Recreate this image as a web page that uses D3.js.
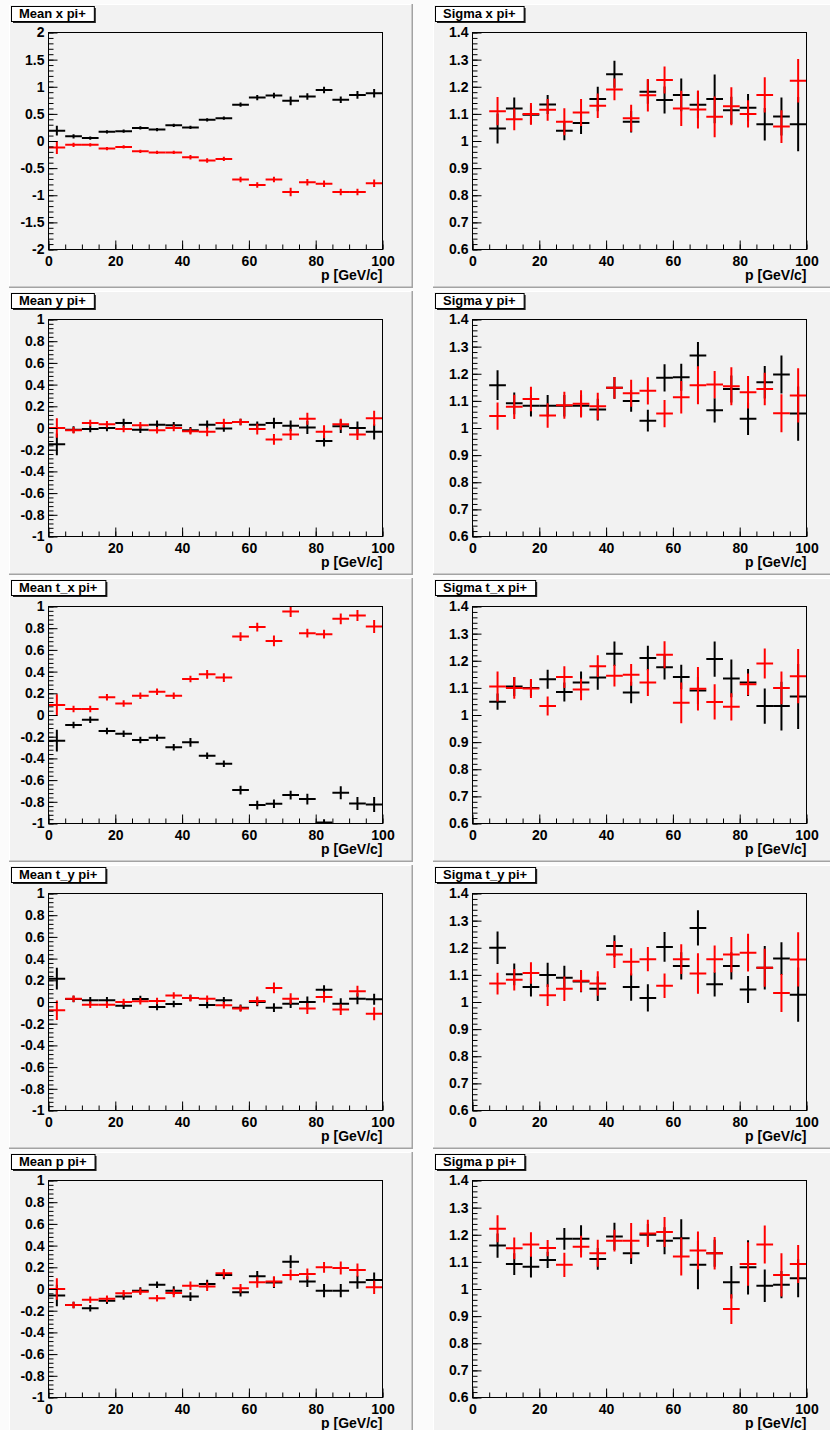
<!DOCTYPE html>
<html>
<head>
<meta charset="utf-8">
<script src="https://cdn.jsdelivr.net/npm/d3@7"></script>
<style>
body{margin:0;background:#fbfbfb;}
svg{display:block;}
text{font-family:"Liberation Sans",Arial,Helvetica,sans-serif;font-weight:bold;}
</style>
</head>
<body>
<div id="canvas"></div>
<script>
// bin centres in p [GeV/c], bins are 5 GeV/c wide
var pBins = [2.5,7.5,12.5,17.5,22.5,27.5,32.5,37.5,42.5,47.5,52.5,57.5,62.5,67.5,72.5,77.5,82.5,87.5,92.5,97.5];
var binHalf = 2.5;

var xTickLabels = ["0","20","40","60","80","100"];
var meanXTickLabels = ["-2","-1.5","-1","-0.5","0","0.5","1","1.5","2"];
var meanTickLabels = ["-1","-0.8","-0.6","-0.4","-0.2","0","0.2","0.4","0.6","0.8","1"];
var sigmaTickLabels = ["0.6","0.7","0.8","0.9","1","1.1","1.2","1.3","1.4"];

var meanXBlack = [0.19,0.086,0.055,0.17,0.18,0.24,0.21,0.29,0.25,0.39,0.42,0.67,0.80,0.84,0.74,0.82,0.94,0.76,0.85,0.88];
var meanXBlackErr = [0.09,0.04,0.03,0.03,0.03,0.03,0.03,0.03,0.03,0.03,0.03,0.04,0.05,0.05,0.08,0.06,0.06,0.06,0.07,0.08];
var meanXRed = [-0.12,-0.07,-0.07,-0.14,-0.11,-0.19,-0.21,-0.21,-0.30,-0.36,-0.33,-0.71,-0.81,-0.71,-0.94,-0.76,-0.79,-0.94,-0.94,-0.78];
var meanXRedErr = [0.12,0.04,0.03,0.03,0.03,0.03,0.03,0.03,0.04,0.04,0.04,0.05,0.05,0.05,0.08,0.06,0.06,0.06,0.06,0.07];

var sigmaXBlack = [null,1.046,1.12,1.097,1.135,1.038,1.066,1.155,1.246,1.071,1.182,1.151,1.17,1.134,1.155,1.113,1.123,1.062,1.09,1.062];
var sigmaXBlackErr = [null,0.055,0.04,0.035,0.035,0.035,0.04,0.045,0.05,0.04,0.045,0.05,0.06,0.05,0.09,0.05,0.05,0.06,0.07,0.1];
var sigmaXRed = [null,1.11,1.08,1.10,1.115,1.071,1.105,1.13,1.19,1.084,1.169,1.225,1.12,1.116,1.089,1.128,1.10,1.17,1.053,1.222];
var sigmaXRedErr = [null,0.052,0.04,0.04,0.04,0.05,0.05,0.045,0.04,0.05,0.06,0.05,0.065,0.07,0.075,0.07,0.05,0.065,0.06,0.08];

var meanYBlack = [-0.15,-0.015,-0.01,0.0,0.045,-0.015,0.03,0.025,-0.02,0.03,-0.005,0.055,0.03,0.045,0.02,0.005,-0.12,0.015,0.0,-0.035];
var meanYBlackErr = [0.1,0.03,0.03,0.03,0.04,0.03,0.04,0.03,0.03,0.04,0.03,0.03,0.03,0.05,0.05,0.06,0.05,0.06,0.06,0.07];
var meanYRed = [0.0,-0.02,0.045,0.035,-0.01,0.025,-0.02,0.0,-0.03,-0.035,0.045,0.055,-0.01,-0.105,-0.06,0.085,-0.035,0.035,-0.06,0.09];
var meanYRedErr = [0.09,0.03,0.03,0.03,0.03,0.03,0.03,0.03,0.03,0.04,0.04,0.03,0.05,0.05,0.05,0.055,0.06,0.05,0.05,0.07];

var sigmaYBlack = [null,1.158,1.091,1.082,1.082,1.082,1.082,1.068,1.148,1.10,1.027,1.185,1.187,1.267,1.065,1.144,1.034,1.169,1.197,1.053];
var sigmaYBlackErr = [null,0.055,0.04,0.04,0.04,0.04,0.04,0.04,0.04,0.04,0.04,0.05,0.05,0.05,0.045,0.05,0.06,0.06,0.07,0.1];
var sigmaYRed = [null,1.044,1.078,1.107,1.046,1.084,1.089,1.08,1.148,1.128,1.137,1.053,1.113,1.158,1.16,1.154,1.132,1.144,1.054,1.12];
var sigmaYRedErr = [null,0.05,0.045,0.045,0.045,0.05,0.05,0.05,0.04,0.05,0.05,0.05,0.06,0.07,0.05,0.07,0.06,0.06,0.07,0.1];

var meanTxBlack = [-0.237,-0.092,-0.043,-0.148,-0.172,-0.23,-0.209,-0.298,-0.252,-0.375,-0.449,-0.692,-0.83,-0.818,-0.738,-0.775,-0.99,-0.717,-0.815,-0.825];
var meanTxBlackErr = [0.1,0.03,0.03,0.03,0.03,0.03,0.03,0.03,0.04,0.03,0.03,0.04,0.04,0.04,0.04,0.05,0.03,0.06,0.06,0.07];
var meanTxRed = [0.092,0.055,0.055,0.163,0.105,0.178,0.215,0.178,0.332,0.375,0.345,0.723,0.81,0.683,0.954,0.754,0.745,0.886,0.917,0.815];
var meanTxRedErr = [0.1,0.03,0.03,0.03,0.03,0.03,0.03,0.03,0.03,0.04,0.04,0.04,0.04,0.05,0.05,0.04,0.04,0.05,0.05,0.06];

var sigmaTxBlack = [null,1.049,1.105,1.10,1.132,1.085,1.12,1.138,1.226,1.083,1.21,1.176,1.14,1.09,1.206,1.135,1.12,1.033,1.033,1.068];
var sigmaTxBlackErr = [null,0.03,0.035,0.03,0.035,0.035,0.04,0.045,0.045,0.04,0.045,0.045,0.045,0.05,0.065,0.07,0.05,0.065,0.09,0.12];
var sigmaTxRed = [null,1.105,1.10,1.098,1.033,1.14,1.094,1.18,1.145,1.148,1.12,1.222,1.045,1.097,1.048,1.03,1.113,1.19,1.10,1.143];
var sigmaTxRedErr = [null,0.055,0.04,0.035,0.035,0.04,0.04,0.04,0.04,0.04,0.05,0.05,0.075,0.08,0.065,0.05,0.04,0.055,0.06,0.1];

var meanTyBlack = [0.215,0.028,0.015,0.015,-0.034,0.028,-0.046,-0.018,0.037,-0.028,0.015,-0.052,0.0,-0.052,-0.015,0.0,0.114,-0.015,0.03,0.025];
var meanTyBlackErr = [0.1,0.03,0.03,0.03,0.03,0.03,0.03,0.03,0.03,0.03,0.03,0.03,0.04,0.04,0.04,0.05,0.04,0.05,0.05,0.05];
var meanTyRed = [-0.077,0.03,-0.025,-0.025,0.0,0.006,0.01,0.06,0.037,0.03,-0.03,-0.06,0.01,0.13,0.03,-0.06,0.046,-0.07,0.1,-0.108];
var meanTyRedErr = [0.09,0.03,0.03,0.03,0.03,0.03,0.03,0.03,0.03,0.03,0.03,0.03,0.04,0.05,0.05,0.05,0.05,0.05,0.05,0.06];

var sigmaTyBlack = [null,1.20,1.102,1.055,1.10,1.089,1.076,1.049,1.206,1.055,1.015,1.203,1.133,1.273,1.065,1.133,1.046,1.126,1.16,1.027];
var sigmaTyBlackErr = [null,0.06,0.04,0.035,0.045,0.045,0.04,0.045,0.04,0.05,0.05,0.055,0.05,0.065,0.045,0.05,0.05,0.08,0.06,0.1];
var sigmaTyRed = [null,1.068,1.082,1.107,1.025,1.049,1.078,1.068,1.175,1.148,1.158,1.06,1.158,1.105,1.158,1.175,1.182,1.126,1.033,1.157];
var sigmaTyRedErr = [null,0.04,0.04,0.04,0.04,0.045,0.04,0.045,0.05,0.05,0.045,0.045,0.055,0.075,0.05,0.065,0.07,0.07,0.07,0.1];

var meanPBlack = [-0.06,-0.148,-0.178,-0.108,-0.07,-0.015,0.04,-0.015,-0.07,0.046,0.13,-0.03,0.117,0.06,0.252,0.068,-0.015,-0.015,0.062,0.083];
var meanPBlackErr = [0.1,0.03,0.03,0.03,0.03,0.03,0.03,0.04,0.04,0.04,0.04,0.04,0.05,0.05,0.06,0.05,0.06,0.06,0.06,0.07];
var meanPRed = [0.0,-0.148,-0.1,-0.09,-0.04,-0.025,-0.086,-0.037,0.03,0.022,0.145,0.006,0.062,0.068,0.13,0.138,0.2,0.194,0.175,0.015];
var meanPRedErr = [0.1,0.03,0.03,0.03,0.03,0.03,0.03,0.04,0.04,0.04,0.04,0.04,0.05,0.05,0.05,0.05,0.05,0.06,0.06,0.06];

var sigmaPBlack = [null,1.16,1.092,1.082,1.107,1.185,1.185,1.111,1.194,1.132,1.2,1.178,1.187,1.089,1.132,1.025,1.08,1.012,1.016,1.04];
var sigmaPBlackErr = [null,0.045,0.04,0.04,0.03,0.04,0.05,0.04,0.05,0.04,0.04,0.05,0.07,0.09,0.05,0.06,0.1,0.06,0.05,0.07];
var sigmaPRed = [null,1.222,1.15,1.164,1.151,1.089,1.156,1.132,1.178,1.178,1.205,1.21,1.12,1.142,1.132,0.926,1.092,1.164,1.052,1.092];
var sigmaPRedErr = [null,0.05,0.04,0.045,0.03,0.045,0.04,0.05,0.04,0.065,0.05,0.055,0.07,0.07,0.06,0.055,0.08,0.07,0.08,0.07];

var panels = [
	{title:"Mean x pi+", ticks:meanXTickLabels, black:meanXBlack, blackErr:meanXBlackErr, red:meanXRed, redErr:meanXRedErr},
	{title:"Sigma x pi+", ticks:sigmaTickLabels, black:sigmaXBlack, blackErr:sigmaXBlackErr, red:sigmaXRed, redErr:sigmaXRedErr},
	{title:"Mean y pi+", ticks:meanTickLabels, black:meanYBlack, blackErr:meanYBlackErr, red:meanYRed, redErr:meanYRedErr},
	{title:"Sigma y pi+", ticks:sigmaTickLabels, black:sigmaYBlack, blackErr:sigmaYBlackErr, red:sigmaYRed, redErr:sigmaYRedErr},
	{title:"Mean t_x pi+", ticks:meanTickLabels, black:meanTxBlack, blackErr:meanTxBlackErr, red:meanTxRed, redErr:meanTxRedErr},
	{title:"Sigma t_x pi+", ticks:sigmaTickLabels, black:sigmaTxBlack, blackErr:sigmaTxBlackErr, red:sigmaTxRed, redErr:sigmaTxRedErr},
	{title:"Mean t_y pi+", ticks:meanTickLabels, black:meanTyBlack, blackErr:meanTyBlackErr, red:meanTyRed, redErr:meanTyRedErr},
	{title:"Sigma t_y pi+", ticks:sigmaTickLabels, black:sigmaTyBlack, blackErr:sigmaTyBlackErr, red:sigmaTyRed, redErr:sigmaTyRedErr},
	{title:"Mean p pi+", ticks:meanTickLabels, black:meanPBlack, blackErr:meanPBlackErr, red:meanPRed, redErr:meanPRedErr},
	{title:"Sigma p pi+", ticks:sigmaTickLabels, black:sigmaPBlack, blackErr:sigmaPBlackErr, red:sigmaPRed, redErr:sigmaPRedErr}
];

var W = 830, H = 1430;
var padW = 404, padH = 284;
var colX = [9, 433];
var rowY0 = 4, rowStep = 287;
var fr = {left:39.5, right:373.5, top:28.5, bottom:245.5};
var padFill = "#f2f2f2";

var svg = d3.select("#canvas")
	.append("svg")
	.attr("width", W)
	.attr("height", H);

function drawSeries(g, x, y, vals, errs, colour){
	var pts = pBins.map(function(c, k){ return {c:c, v:vals[k], e:errs[k]}; })
		.filter(function(d){ return d.v !== null; });
	var s = g.append("g").attr("stroke", colour).attr("stroke-width", 2).attr("fill", "none");
	s.selectAll("line.h").data(pts).enter().append("line")
		.attr("x1", function(d){ return x(d.c - binHalf); })
		.attr("x2", function(d){ return x(d.c + binHalf); })
		.attr("y1", function(d){ return y(d.v); })
		.attr("y2", function(d){ return y(d.v); });
	s.selectAll("line.v").data(pts).enter().append("line")
		.attr("x1", function(d){ return x(d.c); })
		.attr("x2", function(d){ return x(d.c); })
		.attr("y1", function(d){ return y(d.v - d.e); })
		.attr("y2", function(d){ return y(d.v + d.e); });
}

function styleAxis(sel){
	sel.select(".domain").remove();
	sel.attr("font-size", 14)
		.attr("font-family", "'Liberation Sans',Arial,Helvetica,sans-serif")
		.attr("font-weight", "bold");
	sel.selectAll("text").attr("fill", "#000");
}

panels.forEach(function(pn, i){
	var px = colX[i % 2], py = rowY0 + rowStep * Math.floor(i / 2);
	var g = svg.append("g").attr("transform", "translate(" + px + "," + py + ")");

	g.append("rect")
		.attr("width", padW).attr("height", padH)
		.attr("fill", padFill);
	g.append("path")
		.attr("d", "M0.5," + padH + "V0.5H" + padW)
		.attr("stroke", "#ffffff").attr("fill", "none");
	g.append("path")
		.attr("d", "M0," + (padH - 0.75) + "H" + (padW - 0.75) + "V0")
		.attr("stroke", "#a3a3a3").attr("stroke-width", 1.5).attr("fill", "none");

	var tickVals = pn.ticks.map(Number);
	var yMin = tickVals[0], yMax = tickVals[tickVals.length - 1];
	var step = tickVals[1] - tickVals[0];

	var x = d3.scaleLinear().domain([0, 100]).range([fr.left, fr.right]);
	var y = d3.scaleLinear().domain([yMin, yMax]).range([fr.bottom, fr.top]);

	var clipId = "clip" + i;
	g.append("clipPath").attr("id", clipId)
		.append("rect")
		.attr("x", fr.left).attr("y", fr.top)
		.attr("width", fr.right - fr.left).attr("height", fr.bottom - fr.top);

	var data = g.append("g").attr("clip-path", "url(#" + clipId + ")");
	drawSeries(data, x, y, pn.black, pn.blackErr, "#000000");
	drawSeries(data, x, y, pn.red, pn.redErr, "#ff0000");

	// x axis
	var xMinor = d3.range(0, 101, 5);
	g.append("g").attr("transform", "translate(0," + fr.bottom + ")")
		.call(d3.axisBottom(x).tickValues(xMinor).tickSize(-5).tickFormat(""))
		.call(styleAxis);
	g.append("g").attr("transform", "translate(0," + fr.bottom + ")")
		.call(d3.axisBottom(x).tickValues(xTickLabels.map(Number)).tickSize(-9).tickPadding(7)
			.tickFormat(function(d, k){ return xTickLabels[k]; }))
		.call(styleAxis);

	// y axis
	var yMinor = d3.range(0, Math.round((yMax - yMin) / step * 5) + 1).map(function(k){ return yMin + k * step / 5; });
	g.append("g").attr("transform", "translate(" + fr.left + ",0)")
		.call(d3.axisLeft(y).tickValues(yMinor).tickSize(-5).tickFormat(""))
		.call(styleAxis);
	g.append("g").attr("transform", "translate(" + fr.left + ",0)")
		.call(d3.axisLeft(y).tickValues(tickVals).tickSize(-9).tickPadding(4)
			.tickFormat(function(d, k){ return pn.ticks[k]; }))
		.call(styleAxis);

	g.append("rect")
		.attr("x", fr.left).attr("y", fr.top)
		.attr("width", fr.right - fr.left).attr("height", fr.bottom - fr.top)
		.attr("fill", "none").attr("stroke", "#000").attr("stroke-width", 1);

	g.append("text")
		.attr("x", fr.right).attr("y", fr.bottom + 30)
		.attr("text-anchor", "end")
		.attr("font-size", 14)
		.text("p [GeV/c]");

	// title box
	var tg = g.append("g");
	var shadow = tg.append("rect");
	var box = tg.append("rect");
	var t = tg.append("text")
		.attr("x", 10).attr("y", 14)
		.attr("font-size", 13)
		.text(pn.title);
	var tw = t.node().getComputedTextLength();
	shadow.attr("x", 4).attr("y", 4).attr("width", tw + 16).attr("height", 15).attr("fill", "#222");
	box.attr("x", 2.5).attr("y", 2.5).attr("width", tw + 16).attr("height", 15)
		.attr("fill", "#ffffff").attr("stroke", "#000").attr("stroke-width", 1);
});
</script>
</body>
</html>
